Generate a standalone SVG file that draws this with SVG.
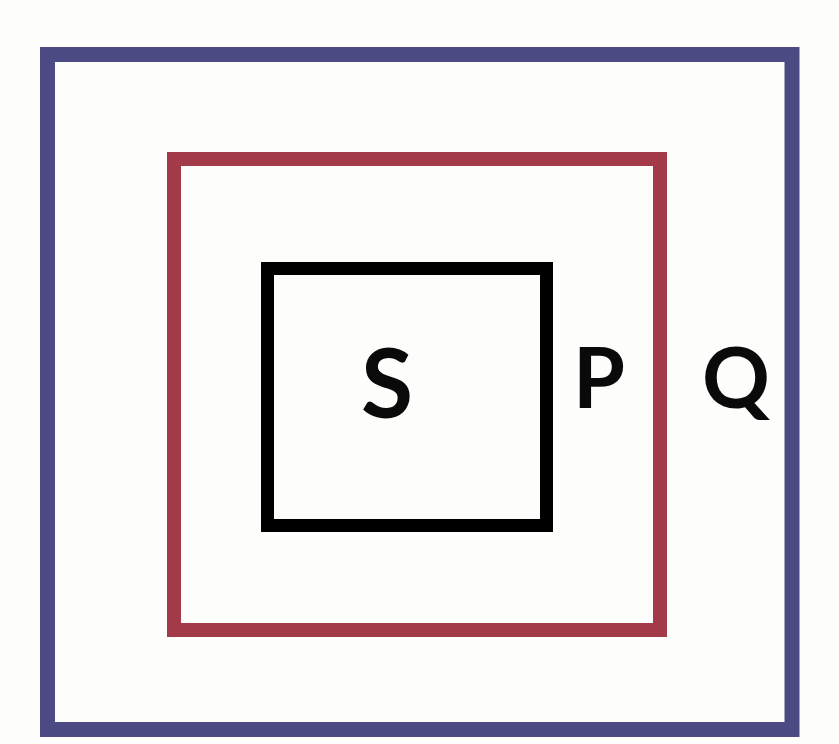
<svg xmlns="http://www.w3.org/2000/svg" width="839" height="744" viewBox="0 0 839 744">
<style>
.box{fill:none;stroke-linejoin:miter}
.lbl{font-family:Lato,"Open Sans","Liberation Sans",sans-serif;font-weight:700;fill:#0a0a0a;text-anchor:middle}
</style>
<rect x="0" y="0" width="839" height="744" fill="#fdfdfb"/>
<g id="Q">
<rect class="box" x="47.5" y="54.5" width="744.5" height="675" stroke="#4b4a82" stroke-width="15"/>
<text class="lbl" x="736" y="408" font-size="84">Q</text>
</g>
<g id="P">
<rect class="box" x="174" y="159" width="486" height="471" stroke="#a33a4a" stroke-width="14"/>
<text class="lbl" x="599" y="408" font-size="84">P</text>
</g>
<g id="S">
<rect class="box" x="267.5" y="268.5" width="279" height="257" stroke="#000" stroke-width="13"/>
<text class="lbl" x="387" y="418" font-size="95">S</text>
</g>
<g id="connectors"/>
</svg>
